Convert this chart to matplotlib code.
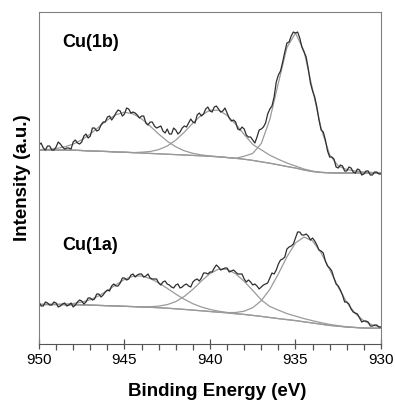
import numpy as np
from matplotlib import pyplot as plt
from matplotlib.ticker import MultipleLocator

plt.rcParams['font.family'] = ['Liberation Sans', 'DejaVu Sans']

## Data (intensity in arbitrary units)
# Measured spectra, 950 -> 930 eV in steps of 0.125 eV
energy = np.linspace(950, 930, 161)
spec_1b = [200, 202, 197, 195, 199, 199, 195, 195, 198, 203,
           201, 198, 196, 197, 197, 196, 203, 205, 202, 201,
           203, 209, 211, 207, 209, 217, 217, 214, 215, 220,
           223, 223, 228, 229, 225, 228, 232, 235, 234, 229,
           231, 237, 236, 232, 233, 232, 230, 227, 229, 229,
           222, 220, 223, 223, 219, 217, 218, 219, 214, 212,
           216, 211, 211, 217, 215, 211, 213, 217, 219, 218,
           222, 226, 223, 222, 230, 232, 229, 231, 236, 238,
           234, 233, 238, 239, 236, 233, 234, 237, 232, 227,
           224, 225, 223, 216, 215, 218, 216, 210, 208, 208,
           205, 202, 208, 215, 216, 218, 222, 231, 236, 239,
           248, 263, 270, 274, 283, 293, 302, 303, 309, 313,
           312, 313, 307, 298, 293, 288, 276, 262, 254, 248,
           238, 225, 215, 213, 205, 194, 188, 188, 186, 178,
           177, 180, 179, 174, 174, 178, 177, 173, 172, 176,
           175, 170, 171, 174, 174, 170, 170, 173, 173, 171,
           171]
spec_1a = [43, 39, 39, 43, 42, 40, 40, 43, 42, 38,
           39, 41, 42, 39, 40, 42, 38, 40, 43, 45,
           44, 41, 43, 47, 47, 45, 46, 51, 51, 48,
           50, 53, 55, 54, 59, 61, 59, 59, 62, 67,
           67, 65, 66, 70, 71, 68, 70, 71, 71, 68,
           69, 71, 67, 66, 66, 66, 62, 60, 63, 64,
           61, 60, 58, 57, 60, 61, 57, 58, 60, 61,
           59, 58, 63, 65, 66, 64, 67, 72, 72, 71,
           73, 73, 77, 80, 78, 75, 76, 77, 77, 73,
           74, 75, 73, 71, 71, 71, 66, 63, 65, 63,
           60, 61, 59, 56, 58, 60, 61, 62, 67, 72,
           71, 75, 81, 85, 86, 88, 96, 98, 99, 101,
           107, 113, 113, 110, 110, 111, 109, 105, 107, 104,
           100, 95, 94, 92, 84, 79, 77, 74, 67, 61,
           59, 55, 50, 43, 43, 41, 36, 33, 32, 31,
           27, 23, 24, 24, 23, 19, 19, 20, 20, 18,
           18]

# Fit: background and three peaks (height above background), 0.5 eV steps
energy_fit = np.linspace(950, 930, 41)
bg_1b = [195, 195, 195, 195, 194.8, 194.5, 194, 193.8, 193.5, 193,
         192.8, 192.4, 192, 191.6, 191.2, 190.8, 190.4, 190, 189.6, 189.2,
         188.7, 188.2, 187.5, 186.7, 185.8, 184.6, 183.2, 181.8, 180.2, 178.5,
         177, 175, 173.5, 172.6, 172.2, 172, 172, 172, 172, 172,
         172]
peak1_1b = [0.2, 0.6, 1.5, 3.2, 6.1, 10.7, 16.9, 24.3, 31.6, 37.3,
            40, 38.8, 34.2, 27.3, 19.8, 13, 7.8, 4.2, 2.1, 0.9,
            0.4, 0.1, 0, 0, 0, 0, 0, 0, 0, 0,
            0, 0, 0, 0, 0, 0, 0, 0, 0, 0,
            0]
peak2_1b = [0, 0, 0, 0, 0, 0, 0, 0, 0, 0,
            0, 0, 0.8, 1.9, 4.2, 8.2, 14.5, 22.9, 32.3, 40.8,
            46.1, 46.6, 42.2, 34.1, 24.7, 16, 12, 8, 5.5, 3.5,
            2, 1, 0.4, 0, 0, 0, 0, 0, 0, 0,
            0]
peak3_1b = [0, 0, 0, 0, 0, 0, 0, 0, 0, 0,
            0, 0, 0, 0, 0, 0, 0, 0, 0, 0,
            0, 0, 0, 0, 3, 7, 18.3, 43.8, 81.9, 119,
            135, 119, 82, 44, 18, 7, 3.5, 2, 1, 0.5,
            0.2]

bg_1a = [40.5, 40.5, 40.5, 40.4, 40.3, 40.1, 39.9, 39.6, 39.3, 39,
         38.7, 38.4, 38, 37.7, 37.3, 36.8, 36.2, 35.6, 34.9, 34.2,
         33.5, 32.8, 32, 31.2, 30.5, 29.6, 28.6, 27.5, 26.4, 25.4,
         24.4, 23.2, 22, 20.8, 19.6, 18.8, 18, 17.5, 17, 16.8,
         16.7]
peak1_1a = [0, 0.1, 0.2, 0.5, 1.2, 2.8, 5.4, 9.6, 15.1, 21.3,
            26.9, 30.4, 31, 28.7, 24.9, 19.9, 14.7, 10.1, 6.4, 3.8,
            2.1, 1, 0.5, 0.2, 0.1, 0, 0, 0, 0, 0,
            0, 0, 0, 0, 0, 0, 0, 0, 0, 0,
            0]
peak2_1a = [0, 0, 0, 0, 0, 0, 0, 0, 0, 0,
            0, 0, 0, 0.6, 1.6, 3.6, 7.2, 13, 20.8, 29.8,
            37.9, 43.1, 43.7, 40, 33.2, 25, 16.5, 11, 8.5, 6,
            4.5, 3.2, 2.3, 1.5, 1, 0.5, 0.2, 0, 0, 0,
            0]
peak3_1a = [0, 0, 0, 0, 0, 0, 0, 0, 0, 0,
            0, 0, 0, 0, 0, 0, 0, 0, 0, 0,
            0, 0, 0.4, 1.3, 3.3, 7.7, 15.7, 28.2, 44.8, 62.8,
            77.7, 84.8, 82.1, 71.4, 55.8, 39.1, 24.6, 13.9, 7.1, 3.2,
            1.3]

## Figure
fig = plt.figure(figsize=(3.95, 4.03), dpi=100)
ax = fig.add_axes([0.0987, 0.1464, 0.8658, 0.825])

fit_color = '#9a9a9a'
data_color = '#2e2e2e'

for bg, peaks in [(bg_1b, [peak1_1b, peak2_1b, peak3_1b]),
                  (bg_1a, [peak1_1a, peak2_1a, peak3_1a])]:
    bg = np.array(bg)
    ax.plot(energy_fit, bg, color=fit_color, lw=0.9)
    for p in peaks:
        ax.plot(energy_fit, bg + np.array(p), color=fit_color, lw=0.9)

ax.plot(energy, spec_1b, color=data_color, lw=0.9)
ax.plot(energy, spec_1a, color=data_color, lw=0.9)

ax.text(0.067, 0.893, 'Cu(1b)', transform=ax.transAxes, fontsize=13,
        fontweight='bold', va='baseline')
ax.text(0.067, 0.283, 'Cu(1a)', transform=ax.transAxes, fontsize=13,
        fontweight='bold', va='baseline')

# Axes
ax.set_xlim(950, 930)
ax.set_ylim(1, 333.5)
ax.xaxis.set_major_locator(MultipleLocator(5))
ax.xaxis.set_minor_locator(MultipleLocator(1))
ax.tick_params(axis='x', which='major', direction='inout', length=7,
               width=0.9, color='#555555', labelsize=11, pad=3)
ax.tick_params(axis='x', which='minor', direction='out', length=4,
               width=0.9, color='#555555')
ax.set_yticks([])
for side in ['top', 'right', 'left']:
    ax.spines[side].set_color('#808080')
ax.spines['bottom'].set_color('#555555')

ax.set_xlabel('Binding Energy (eV)', fontsize=13.5, fontweight='bold')
ax.xaxis.set_label_coords(0.52, -0.118)
ax.set_ylabel('Intensity (a.u.)', fontsize=13.5, fontweight='bold')
ax.yaxis.set_label_coords(-0.022, 0.5)

fig.savefig('out.png', dpi=100)
